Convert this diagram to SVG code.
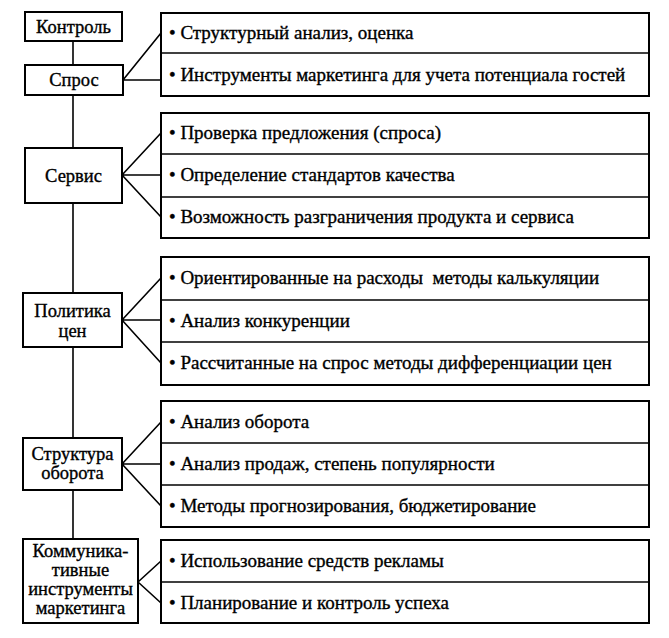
<svg xmlns="http://www.w3.org/2000/svg" width="669" height="638" viewBox="0 0 669 638">
<style>
rect{fill:#fff;stroke:#000;stroke-width:2}
line,path{stroke:#000;stroke-width:1.6;fill:none}
text{font-family:"Liberation Serif","Times New Roman",serif;font-size:18.5px;fill:#000;stroke:#000;stroke-width:0.35;white-space:pre}
.l{text-anchor:middle}
.r{font-size:19px}
</style>
<rect x="0" y="0" width="669" height="638" style="stroke:none"/>
<g id="connectors">
<line x1="73" y1="41" x2="73" y2="539"/>
<path d="M123 80 L161 33 M123 80 L161 80"/>
<path d="M122 175 L161 133 M122 175 L161 175 M122 175 L161 217"/>
<path d="M122 320 L161 278 M122 320 L161 320 M122 320 L161 363"/>
<path d="M122 464 L161 422 M122 464 L161 464 M122 464 L161 506"/>
<path d="M138 582 L161 561 M138 582 L161 603"/>
</g>
<g id="n-kontrol"><rect x="25" y="12" width="97" height="29"/><text class="l" x="73.5" y="33">Контроль</text></g>
<g id="n-spros"><rect x="25" y="65" width="98" height="30"/><text class="l" x="74" y="86">Спрос</text></g>
<g id="n-servis"><rect x="25" y="148" width="97" height="55"/><text class="l" x="73.5" y="182">Сервис</text></g>
<g id="n-politika"><rect x="23" y="293" width="99" height="54"/><text class="l" x="72.5" y="317">Политика</text><text class="l" x="72.5" y="337">цен</text></g>
<g id="n-struktura"><rect x="23" y="438" width="99" height="52"/><text class="l" x="72.5" y="460">Структура</text><text class="l" x="72.5" y="479">оборота</text></g>
<g id="n-kommunik"><rect x="23" y="539" width="115" height="84"/><text class="l" x="80.5" y="557">Коммуника-</text><text class="l" x="80.5" y="576">тивные</text><text class="l" x="80.5" y="595">инструменты</text><text class="l" x="80.5" y="614">маркетинга</text></g>
<g id="b-spros"><rect x="161" y="13" width="488" height="83"/><line x1="161" y1="53" x2="649" y2="53"/><text class="r" x="169" y="39">• Структурный анализ, оценка</text><text class="r" x="169" y="81">• Инструменты маркетинга для учета потенциала гостей</text></g>
<g id="b-servis"><rect x="161" y="113" width="488" height="125"/><line x1="161" y1="154" x2="649" y2="154"/><line x1="161" y1="197" x2="649" y2="197"/><text class="r" x="169" y="139">• Проверка предложения (спроса)</text><text class="r" x="169" y="181">• Определение стандартов качества</text><text class="r" x="169" y="223">• Возможность разграничения продукта и сервиса</text></g>
<g id="b-politika"><rect x="161" y="257" width="488" height="128"/><line x1="161" y1="300" x2="649" y2="300"/><line x1="161" y1="342" x2="649" y2="342"/><text class="r" x="169" y="284">• Ориентированные на расходы  методы калькуляции</text><text class="r" x="169" y="327">• Анализ конкуренции</text><text class="r" x="169" y="369">• Рассчитанные на спрос методы дифференциации цен</text></g>
<g id="b-struktura"><rect x="161" y="401" width="488" height="126"/><line x1="161" y1="443" x2="649" y2="443"/><line x1="161" y1="485" x2="649" y2="485"/><text class="r" x="169" y="428">• Анализ оборота</text><text class="r" x="169" y="470">• Анализ продаж, степень популярности</text><text class="r" x="169" y="512">• Методы прогнозирования, бюджетирование</text></g>
<g id="b-kommunik"><rect x="161" y="540" width="488" height="83"/><line x1="161" y1="582" x2="649" y2="582"/><text class="r" x="169" y="567">• Использование средств рекламы</text><text class="r" x="169" y="609">• Планирование и контроль успеха</text></g>
</svg>
